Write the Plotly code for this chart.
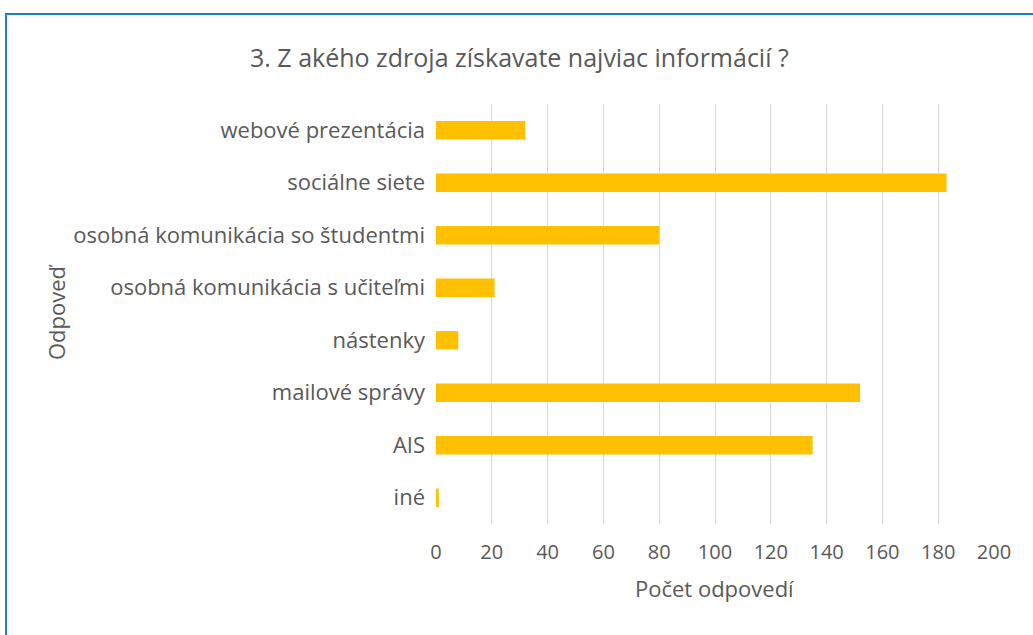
import plotly.graph_objects as go

# categories from bottom to top, as drawn
odpovede = ['iné', 'AIS', 'mailové správy', 'nástenky',
            'osobná komunikácia s učiteľmi', 'osobná komunikácia so študentmi',
            'sociálne siete', 'webové prezentácia']
pocty = [1, 135, 152, 8, 21, 80, 183, 32]
x_ticks = [0, 20, 40, 60, 80, 100, 120, 140, 160, 180, 200]

font_name = 'Open Sans, sans-serif'
gray = '#595959'

# plot area in page pixels: x 436..994, y 104..524
L, R, T, B = 436, 994, 104, 524
W, H = R - L, B - T

def px(x):
    return (x - L) / W

def py(y):
    return (B - y) / H

fig = go.Figure(go.Bar(
    y=odpovede, x=pocty, orientation='h',
    marker=dict(color='#FFC000', line=dict(width=0)),
))

fig.update_layout(
    width=1033, height=635,
    margin=dict(l=L, r=1033 - R, t=T, b=635 - B, autoexpand=False),
    paper_bgcolor='white', plot_bgcolor='white',
    bargap=0.65,
    showlegend=False,
    font=dict(family=font_name, color=gray, size=16),
)

fig.update_xaxes(
    range=[0, 200], tickvals=x_ticks, showgrid=True, gridcolor='#D9D9D9',
    gridwidth=1, zeroline=False, showline=False, ticks='',
    ticklabelstandoff=14,
    tickfont=dict(size=20, color=gray),
)
fig.update_yaxes(
    showgrid=False, zeroline=False, showline=False, ticks='',
    ticklabelstandoff=10,
    tickfont=dict(size=22, color=gray),
)

# title and axis titles placed as annotations
fig.add_annotation(text='3. Z akého zdroja získavate najviac informácií ?',
                   xref='paper', yref='paper', x=px(519), y=py(57),
                   xanchor='center', yanchor='middle',
                   showarrow=False, font=dict(size=25, color=gray))
fig.add_annotation(text='Počet odpovedí', xref='paper', yref='paper',
                   x=px(714), y=py(588), xanchor='center', yanchor='middle',
                   showarrow=False, font=dict(size=22, color=gray))
fig.add_annotation(text='Odpoveď', xref='paper', yref='paper',
                   x=px(56), y=py(312), xanchor='center', yanchor='middle',
                   textangle=-90, showarrow=False,
                   font=dict(size=22, color=gray))

# outer chart frame (blue border)
fig.add_shape(type='rect', xref='paper', yref='paper',
              x0=px(6), x1=px(1045), y0=py(650), y1=py(14),
              line=dict(color='#1F7BCF', width=2), layer='below')

fig.write_html('out.html', config={'displayModeBar': False},
               post_script="document.body.style.margin='0';")
